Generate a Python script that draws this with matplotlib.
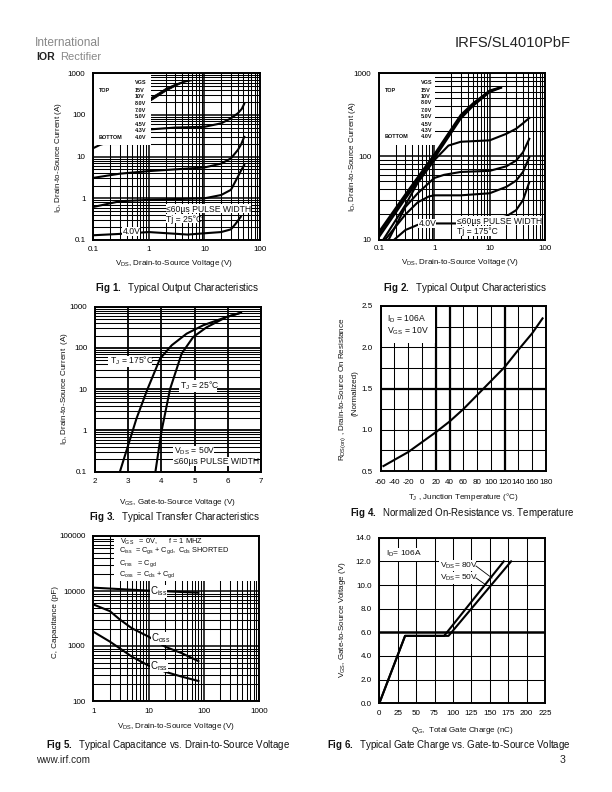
import numpy as np
import matplotlib
matplotlib.use('Agg')
import matplotlib.pyplot as plt
from matplotlib.lines import Line2D

plt.rcParams['font.family'] = ['Liberation Sans', 'DejaVu Sans']
plt.rcParams['mathtext.fontset'] = 'custom'
plt.rcParams['mathtext.rm'] = 'Liberation Sans'
plt.rcParams['mathtext.bf'] = 'Liberation Sans:bold'
plt.rcParams['mathtext.it'] = 'Liberation Sans:italic'

W, H = 612, 792

######## Fig 1 data ########
f1_40_x = [0.1, 0.3, 1, 5, 10, 20, 30, 36, 45]
f1_40_y = [0.13, 0.14, 0.155, 0.135, 0.145, 0.155, 0.18, 0.24, 0.36]
f1_43_x = [0.1, 0.3, 1, 10, 20, 30, 40, 45, 52]
f1_43_y = [0.62, 0.85, 0.92, 1.0, 1.2, 1.6, 3.3, 4.5, 6.3]
f1_45_x = [0.1, 0.3, 1, 10, 20, 30, 40, 46, 52]
f1_45_y = [3.1, 3.9, 4.5, 5.5, 6.8, 9.1, 14.5, 20, 30]
f1_50_x = [0.1, 0.13, 1.05, 3, 10, 20, 30, 40, 47, 52]
f1_50_y = [16, 19, 45, 50, 52, 63, 83, 110, 140, 185]
f1_top_x = [1.07, 1.5, 2, 3, 4, 5, 6.5]
f1_top_hi = [270, 350, 450, 570, 650, 680, 700]
f1_top_lo = [225, 300, 385, 510, 610, 660, 695]

######## Fig 2 data ########
f2_15_x = [0.1, 0.3, 1, 3, 5, 10, 16]
f2_15_y = [12.4, 35, 106, 315, 435, 620, 680]
f2_10_y = [11.6, 33, 101, 300, 425, 610, 675]
f2_7_y = [10.7, 31, 95, 285, 405, 595, 670]
f2_50_x = [0.12, 0.3, 0.5, 1, 1.8, 3, 10, 20, 30, 40, 52]
f2_50_y = [10, 26, 48, 90, 135, 150, 156, 187, 215, 250, 290]
f2_45_x = [0.15, 0.3, 0.5, 1, 1.5, 3, 10, 20, 30, 40, 52]
f2_45_y = [10, 24.6, 36, 55, 60, 65, 67, 76, 89, 112, 163]
f2_43_x = [0.13, 0.3, 0.5, 0.8, 1, 3, 10, 20, 30, 40, 52]
f2_43_y = [10, 20, 28, 33, 34, 34, 36, 43, 51, 65, 98]
f2_40_x = [0.19, 0.3, 0.5, 0.8, 3, 10, 20, 30, 40, 52]
f2_40_y = [10, 13, 15, 15.6, 15.6, 17, 19, 22.5, 29.7, 49]

######## Fig 3 data ########
f3_175_x = [2.75, 3.0, 3.25, 3.58, 3.96, 4.31, 4.76, 5.26, 5.96, 6.4]
f3_175_y = [0.1, 0.44, 1.95, 10, 55, 116, 222, 355, 562, 716]
f3_25_x = [3.82, 4.0, 4.26, 4.61, 4.96, 5.36, 5.96, 6.4]
f3_25_y = [0.1, 0.93, 10, 73, 185, 316, 562, 716]

######## Fig 4 data ########
f4_t = [-56, -20, 20, 40, 60, 80, 100, 120, 140, 160, 175]
f4_r = [0.56, 0.73, 0.97, 1.10, 1.25, 1.42, 1.59, 1.76, 1.97, 2.17, 2.35]

######## Fig 5 data ########
f5_ciss_x = [1, 10, 20, 40, 80]
f5_ciss_y = [11500, 10150, 9900, 9600, 9300]
f5_v = [1, 2, 3, 5, 10, 20, 40, 80]
f5_coss = [5700, 4300, 3050, 2100, 1480, 970, 740, 530]
f5_crss = [1820, 1200, 910, 640, 440, 340, 277, 231]

######## Fig 6 data ########
f6_q80 = [0, 35, 88, 169]
f6_q50 = [0, 35, 94, 179]
f6_v = [0, 5.7, 5.7, 12]

log_decades = {'0.1': 0.1, '1': 1, '10': 10, '100': 100, '1000': 1000, '10000': 10000, '100000': 100000}


def px(x, y):
    return x / W, 1 - y / H


def make_axes(left, right, top, bottom, xpad=4.2):
    ax = fig.add_axes([left / W, 1 - bottom / H, (right - left) / W, (bottom - top) / H])
    for s in ax.spines.values():
        s.set_linewidth(1.4)
        s.set_zorder(10)
    ax.tick_params(which='both', length=0, labelsize=5.8)
    ax.tick_params(axis='x', which='both', pad=xpad)
    ax.tick_params(axis='y', which='both', pad=5.6)
    return ax


def log_axis(axis, lo, hi):
    labels = [k for k, v in log_decades.items() if lo <= v <= hi]
    axis.set_ticks([log_decades[k] for k in labels])
    axis.set_ticklabels(labels)
    minors = [m * d for d in log_decades.values() for m in range(2, 10) if lo < m * d < hi]
    axis.set_ticks(minors, minor=True)
    axis.set_tick_params(which='minor', labelbottom=False, labelleft=False)


def log_grid(ax, major=1.1, minor=0.75):
    ax.grid(True, which='major', color='k', lw=major, zorder=1)
    ax.grid(True, which='minor', color='k', lw=minor, zorder=1)
    ax.set_axisbelow(True)


def white_box(ax, l, r, t, b):
    # box given in page pixels, hides the grid and curves behind legends
    x0, y0 = px(l, b)
    x1, y1 = px(r, t)
    ax.add_patch(plt.Rectangle((x0, y0), x1 - x0, y1 - y0, transform=fig.transFigure,
                               fc='white', ec='none', zorder=4))


def txt(x, y, s, size=5.6, ha='left', **kw):
    fx, fy = px(x, y)
    return fig.text(fx, fy, s, fontsize=size, ha=ha, va='center', zorder=20, color=kw.pop('color', '#111111'), **kw)


def leader(x0, y0, x1, y1):
    a = px(x0, y0)
    b = px(x1, y1)
    fig.add_artist(Line2D([a[0], b[0]], [a[1], b[1]], color='k', lw=0.6, zorder=20))


def legend_block(x_top, x_vals, ys):
    names = ['VGS', '15V', '10V', '8.0V', '7.0V', '5.0V', '4.5V', '4.3V', '4.0V']
    for n, y in zip(names, ys):
        txt(x_vals, y, n, size=4.0, fontweight='bold')
    txt(x_top, ys[1], 'TOP', size=4.0, fontweight='bold')
    txt(x_top, ys[8], 'BOTTOM', size=4.0, fontweight='bold')


fig = plt.figure(figsize=(W / 100, H / 100), dpi=100)
lw_curve = 1.5

######## Fig 1 ########
ax = make_axes(93.3, 260, 73.3, 240)
ax.set_xscale('log')
ax.set_yscale('log')
ax.set_xlim(0.1, 100)
ax.set_ylim(0.1, 1000)
log_axis(ax.xaxis, 0.1, 100)
log_axis(ax.yaxis, 0.1, 1000)
log_grid(ax)
ax.plot(f1_40_x, f1_40_y, 'k', lw=lw_curve, zorder=3)
ax.plot(f1_43_x, f1_43_y, 'k', lw=lw_curve, zorder=3)
ax.plot(f1_45_x, f1_45_y, 'k', lw=lw_curve, zorder=3)
ax.plot(f1_50_x, f1_50_y, 'k', lw=lw_curve, zorder=3)
ax.fill_between(f1_top_x, f1_top_lo, f1_top_hi, color='k', lw=0.6, zorder=3)
white_box(ax, 94, 151, 74, 145)
white_box(ax, 166, 251, 204, 213)
white_box(ax, 166, 199, 214, 223)
white_box(ax, 122, 140, 227, 236)
legend_block(99, 135, [83, 90, 97, 103.5, 111, 117, 124, 131, 137.5])
txt(166, 209, '≤60µs PULSE WIDTH', size=6.2)
txt(166, 219, 'Tj = 25°C', size=6.2)
txt(123, 231, '4.0V', size=6.2)
txt(58, 158, r'I$_{\mathrm{D}}$, Drain-to-Source Current (A)', size=5.8, ha='center', rotation=90)
txt(174, 264, r'V$_{\mathrm{DS}}$, Drain-to-Source Voltage (V)', size=5.8, ha='center')
txt(177, 288, r'$\mathbf{Fig\ 1.}$  Typical Output Characteristics', size=7.0, ha='center')

######## Fig 2 ########
ax = make_axes(379, 545, 73.3, 239.5)
ax.set_xscale('log')
ax.set_yscale('log')
ax.set_xlim(0.1, 100)
ax.set_ylim(10, 1000)
log_axis(ax.xaxis, 0.1, 100)
log_axis(ax.yaxis, 10, 1000)
log_grid(ax)
for yy in (f2_15_y, f2_10_y, f2_7_y):
    ax.plot(f2_15_x, yy, 'k', lw=lw_curve, zorder=3)
ax.plot(f2_50_x, f2_50_y, 'k', lw=lw_curve, zorder=3)
ax.plot(f2_45_x, f2_45_y, 'k', lw=lw_curve, zorder=3)
ax.plot(f2_43_x, f2_43_y, 'k', lw=lw_curve, zorder=3)
ax.plot(f2_40_x, f2_40_y, 'k', lw=lw_curve, zorder=3)
white_box(ax, 380, 435, 74, 145)
white_box(ax, 456, 541, 216, 225)
white_box(ax, 456, 495, 226, 236)
white_box(ax, 418, 436, 219, 228)
legend_block(385, 420.7, [83, 90, 97, 103, 110, 117, 124, 131, 137])
txt(457, 221, '≤60µs PULSE WIDTH', size=6.2)
txt(457, 231, 'Tj = 175°C', size=6.2)
txt(419, 224, '4.0V', size=6.2)
txt(352, 157, r'I$_{\mathrm{D}}$, Drain-to-Source Current (A)', size=5.8, ha='center', rotation=90)
txt(460, 263, r'V$_{\mathrm{DS}}$, Drain-to-Source Voltage (V)', size=5.8, ha='center')
txt(465, 288, r'$\mathbf{Fig\ 2.}$  Typical Output Characteristics', size=7.0, ha='center')

######## Fig 3 ########
ax = make_axes(95, 261, 306.7, 471.7, xpad=4.8)
ax.set_yscale('log')
ax.set_xlim(2, 7)
ax.set_ylim(0.1, 1000)
ax.set_xticks([2, 3, 4, 5, 6, 7])
log_axis(ax.yaxis, 0.1, 1000)
log_grid(ax, major=1.3)
ax.plot(f3_175_x, f3_175_y, 'k', lw=lw_curve, zorder=3)
ax.plot(f3_25_x, f3_25_y, 'k', lw=lw_curve, zorder=3)
white_box(ax, 108, 152, 356, 367)
white_box(ax, 179, 217, 380, 392)
white_box(ax, 173, 214, 446, 457)
white_box(ax, 173, 254, 457, 466)
txt(110, 361, r'T$_{\mathrm{J}}$ = 175°C', size=6.2)
txt(180, 386, r'T$_{\mathrm{J}}$ = 25°C', size=6.2)
txt(174, 451, r'V$_{\mathrm{DS}}$ = 50V', size=6.2)
txt(174, 461.5, '≤60µs PULSE WIDTH', size=6.2)
txt(64, 388, r'I$_{\mathrm{D}}$, Drain-to-Source Current  (A)', size=5.8, ha='center', rotation=90)
txt(177, 502, r'V$_{\mathrm{GS}}$, Gate-to-Source Voltage (V)', size=5.8, ha='center')
txt(175, 517, r'$\mathbf{Fig\ 3.}$  Typical Transfer Characteristics', size=7.0, ha='center')

######## Fig 4 ########
ax = make_axes(380.7, 546, 306, 471, xpad=5.6)
ax.set_xlim(-60, 180)
ax.set_ylim(0.5, 2.5)
temps = list(range(-60, 200, 20))
ax.set_xticks(temps)
ax.set_xticklabels([str(t) for t in temps])
ax.set_yticks([0.5, 1.0, 1.5, 2.0, 2.5])
ax.set_yticklabels(['0.5', '1.0', '1.5', '2.0', '2.5'])
ax.set_yticks([0.75, 1.25, 1.75, 2.25], minor=True)
ax.tick_params(which='minor', length=0)
ax.grid(True, which='both', color='k', lw=0.75, zorder=1)
ax.set_axisbelow(True)
for t in (20, 40, 120):
    ax.axvline(t, color='k', lw=1.6, zorder=1)
ax.axhline(1.5, color='k', lw=1.6, zorder=1)
ax.plot(f4_t, f4_r, 'k', lw=lw_curve, zorder=3)
white_box(ax, 382, 435, 307, 343)
txt(387, 319, r'I$_{\mathrm{D}}$ = 106A', size=6.2)
txt(387, 331, r'V$_{\mathrm{GS}}$ = 10V', size=6.2)
txt(343, 389, r'R$_{\mathrm{DS(on)}}$ , Drain-to-Source On Resistance', size=5.8, ha='center', rotation=90)
txt(355, 393, '(Normalized)', size=5.8, ha='center', rotation=90)
txt(463, 497, r'T$_{\mathrm{J}}$ , Junction Temperature (°C)', size=5.8, ha='center')
txt(462, 513, r'$\mathbf{Fig\ 4.}$  Normalized On-Resistance vs. Temperature', size=7.05, ha='center')

######## Fig 5 ########
ax = make_axes(93.3, 259, 536, 701, xpad=4.8)
ax.set_xscale('log')
ax.set_yscale('log')
ax.set_xlim(1, 1000)
ax.set_ylim(100, 100000)
log_axis(ax.xaxis, 1, 1000)
log_axis(ax.yaxis, 100, 100000)
log_grid(ax)
ax.plot(f5_ciss_x, f5_ciss_y, 'k', lw=lw_curve, zorder=3)
ax.plot(f5_v, f5_coss, 'k', lw=lw_curve, zorder=3)
ax.plot(f5_v, f5_crss, 'k', lw=lw_curve, zorder=3)
white_box(ax, 114, 258, 537, 581)
white_box(ax, 150, 167, 585, 598)
white_box(ax, 151, 170, 632, 645)
white_box(ax, 150, 168, 660, 672)
txt(120, 541.5, r'V$_{\mathrm{GS}}$   = 0V,      f = 1 MHZ', size=5.3)
txt(119, 551, r'C$_{\mathrm{iss}}$  = C$_{\mathrm{gs}}$ + C$_{\mathrm{gd}}$,  C$_{\mathrm{ds}}$ SHORTED', size=5.3)
txt(119, 564, r'C$_{\mathrm{rss}}$   = C$_{\mathrm{gd}}$', size=5.3)
txt(119, 575, r'C$_{\mathrm{oss}}$  = C$_{\mathrm{ds}}$ + C$_{\mathrm{gd}}$', size=5.3)
txt(150, 591, r'C$_{\mathrm{iss}}$', size=7.0)
txt(151, 638, r'C$_{\mathrm{oss}}$', size=7.0)
txt(150, 666, r'C$_{\mathrm{rss}}$', size=7.0)
txt(56, 622, 'C, Capacitance (pF)', size=5.8, ha='center', rotation=90)
txt(176, 727, r'V$_{\mathrm{DS}}$, Drain-to-Source Voltage (V)', size=5.8, ha='center')
txt(168, 745, r'$\mathbf{Fig\ 5.}$  Typical Capacitance vs. Drain-to-Source Voltage', size=7.0, ha='center')

######## Fig 6 ########
ax = make_axes(379.3, 545, 537.7, 703.3, xpad=5.0)
ax.set_xlim(0, 225)
ax.set_ylim(0, 14)
ax.set_xticks(range(0, 250, 25))
ax.set_yticks(range(0, 16, 2))
ax.set_yticklabels(['%.1f' % v for v in range(0, 16, 2)])
ax.grid(True, color='k', lw=0.75, zorder=1)
ax.set_axisbelow(True)
ax.axhline(6, color='k', lw=1.8, zorder=1)
ax.plot(f6_q80, f6_v, 'k', lw=lw_curve, zorder=3)
ax.plot(f6_q50, f6_v, 'k', lw=lw_curve, zorder=3)
white_box(ax, 384, 421, 548, 561)
white_box(ax, 439, 476, 560, 571)
white_box(ax, 439, 476, 572, 584)
txt(386, 554, r'I$_{\mathrm{D}}$= 106A', size=6.0)
txt(440, 566, r'V$_{\mathrm{DS}}$= 80V', size=6.0)
txt(440, 578, r'V$_{\mathrm{DS}}$= 50V', size=6.0)
leader(476, 566, 492, 578)
leader(476, 578, 486, 585)
txt(342, 620, r'V$_{\mathrm{GS}}$, Gate-to-Source Voltage (V)', size=5.8, ha='center', rotation=90)
txt(462, 730, r'Q$_{\mathrm{G}}$,  Total Gate Charge (nC)', size=5.8, ha='center')
txt(449, 745, r'$\mathbf{Fig\ 6.}$  Typical Gate Charge vs. Gate-to-Source Voltage', size=7.0, ha='center')

######## page furniture ########
txt(35, 43, 'International', size=8.6, color='#888888')
txt(36, 57.5, 'IOR', size=7.6, fontweight='bold', color='#222222')
txt(60, 57.5, 'Rectifier', size=8.0, color='#888888', ha='left')
txt(513, 43, 'IRFS/SL4010PbF', size=10.6, ha='center', color='#222222')
txt(36, 760, 'www.irf.com', size=7.2, color='#222222')
txt(565, 760, '3', size=7.6, ha='right', color='#222222')

fig.savefig('out.png', dpi=100)
